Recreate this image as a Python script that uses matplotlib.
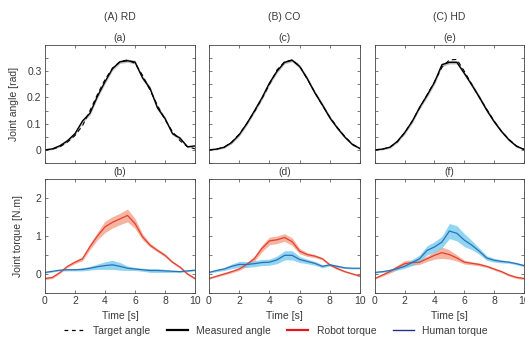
import matplotlib.pyplot as plt
from matplotlib.lines import Line2D

# ---------------- data ----------------
time = [0, 0.5, 1, 1.5, 2, 2.5, 3, 3.5, 4, 4.5, 5, 5.5, 6, 6.5, 7, 7.5, 8, 8.5, 9, 9.5, 10]

col_titles = ['(A) RD', '(B) CO', '(C) HD']
top_labels = ['(a)', '(c)', '(e)']
bot_labels = ['(b)', '(d)', '(f)']

# joint angle [rad]
target_rd = [0.0, 0.003, 0.012, 0.03, 0.055, 0.092, 0.15, 0.212, 0.268, 0.312, 0.337,
             0.343, 0.33, 0.285, 0.228, 0.17, 0.115, 0.07, 0.035, 0.012, 0.004]
measured_rd = [0.0, 0.004, 0.016, 0.035, 0.062, 0.11, 0.14, 0.205, 0.26, 0.31, 0.336,
               0.34, 0.335, 0.275, 0.235, 0.16, 0.12, 0.062, 0.045, 0.012, 0.015]
target_co = [0.0, 0.003, 0.01, 0.03, 0.06, 0.1, 0.145, 0.195, 0.25, 0.305, 0.336,
             0.343, 0.32, 0.27, 0.22, 0.17, 0.125, 0.085, 0.05, 0.022, 0.004]
measured_co = [0.0, 0.003, 0.01, 0.028, 0.058, 0.1, 0.148, 0.198, 0.255, 0.3, 0.334,
               0.342, 0.318, 0.272, 0.218, 0.172, 0.122, 0.083, 0.048, 0.02, 0.005]
target_hd = [0.0, 0.003, 0.01, 0.03, 0.065, 0.11, 0.16, 0.21, 0.26, 0.315, 0.343,
             0.345, 0.3, 0.25, 0.2, 0.155, 0.11, 0.07, 0.04, 0.015, 0.002]
measured_hd = [0.0, 0.003, 0.01, 0.032, 0.066, 0.108, 0.162, 0.208, 0.258, 0.325, 0.334,
               0.334, 0.292, 0.248, 0.202, 0.152, 0.108, 0.07, 0.038, 0.014, 0.002]
angle_sd = [0.002, 0.003, 0.004, 0.005, 0.006, 0.007, 0.007, 0.008, 0.008, 0.007, 0.006,
            0.006, 0.007, 0.008, 0.008, 0.008, 0.007, 0.006, 0.005, 0.004, 0.003]

# joint torque [N.m]
robot_rd = [-0.12, -0.09, 0.04, 0.2, 0.31, 0.4, 0.72, 1.0, 1.24, 1.36, 1.45,
            1.54, 1.33, 0.98, 0.76, 0.62, 0.49, 0.31, 0.18, 0.0, -0.12]
robot_rd_sd = [0.03, 0.03, 0.03, 0.03, 0.04, 0.05, 0.08, 0.1, 0.15, 0.15, 0.15,
               0.17, 0.13, 0.08, 0.05, 0.04, 0.04, 0.03, 0.03, 0.03, 0.03]
human_rd = [0.04, 0.07, 0.1, 0.11, 0.11, 0.12, 0.15, 0.19, 0.22, 0.24, 0.2,
            0.15, 0.13, 0.11, 0.09, 0.09, 0.08, 0.07, 0.06, 0.08, 0.1]
human_rd_sd = [0.02, 0.02, 0.02, 0.03, 0.03, 0.04, 0.05, 0.07, 0.1, 0.12, 0.1,
               0.06, 0.04, 0.04, 0.05, 0.05, 0.04, 0.03, 0.02, 0.02, 0.02]

robot_co = [-0.12, -0.06, 0.0, 0.06, 0.13, 0.25, 0.4, 0.67, 0.87, 0.9, 0.96,
            0.85, 0.6, 0.51, 0.47, 0.4, 0.24, 0.14, 0.06, 0.0, -0.06]
robot_co_sd = [0.02, 0.02, 0.03, 0.03, 0.04, 0.05, 0.07, 0.09, 0.1, 0.1, 0.1,
               0.1, 0.07, 0.05, 0.04, 0.03, 0.03, 0.03, 0.02, 0.02, 0.02]
human_co = [0.04, 0.09, 0.13, 0.2, 0.25, 0.25, 0.27, 0.3, 0.31, 0.37, 0.49,
            0.49, 0.38, 0.33, 0.28, 0.2, 0.24, 0.2, 0.16, 0.15, 0.15]
human_co_sd = [0.02, 0.03, 0.04, 0.06, 0.08, 0.08, 0.08, 0.08, 0.08, 0.1, 0.12,
               0.12, 0.08, 0.06, 0.05, 0.04, 0.03, 0.03, 0.02, 0.02, 0.02]

robot_hd = [-0.12, -0.03, 0.06, 0.17, 0.27, 0.3, 0.31, 0.4, 0.49, 0.56, 0.51,
            0.42, 0.31, 0.28, 0.25, 0.2, 0.13, 0.06, -0.03, -0.09, -0.12]
robot_hd_sd = [0.02, 0.03, 0.04, 0.06, 0.08, 0.07, 0.06, 0.07, 0.1, 0.15, 0.12,
               0.08, 0.05, 0.04, 0.04, 0.03, 0.03, 0.03, 0.03, 0.03, 0.03]
human_hd = [0.04, 0.06, 0.09, 0.14, 0.2, 0.3, 0.4, 0.62, 0.71, 0.84, 1.13,
            1.07, 0.89, 0.76, 0.6, 0.42, 0.36, 0.33, 0.31, 0.27, 0.22]
human_hd_sd = [0.02, 0.02, 0.03, 0.04, 0.05, 0.08, 0.1, 0.12, 0.14, 0.15, 0.2,
               0.2, 0.17, 0.12, 0.08, 0.06, 0.05, 0.04, 0.03, 0.03, 0.03]

targets = [target_rd, target_co, target_hd]
measured = [measured_rd, measured_co, measured_hd]
robots = [(robot_rd, robot_rd_sd), (robot_co, robot_co_sd), (robot_hd, robot_hd_sd)]
humans = [(human_rd, human_rd_sd), (human_co, human_co_sd), (human_hd, human_hd_sd)]

# ---------------- style ----------------
RED, RED_BAND = '#e5402f', '#f29a80'
BLUE, BLUE_BAND = '#2a72b8', '#6cc8ee'
TXT = '#3a3a3a'
FS = 7.5

plt.rcParams['font.family'] = ['Liberation Sans', 'DejaVu Sans']
fig = plt.figure(figsize=(5.25, 3.41), dpi=100)

lefts = [0.0857, 0.398, 0.714]
widths = [0.2857, 0.288, 0.284]


def style(ax):
    for s in ax.spines.values():
        s.set_linewidth(0.6)
        s.set_color('#444444')
    ax.tick_params(direction='in', which='both', top=True, right=True,
                   length=2, width=0.5, labelsize=FS, colors='#444444',
                   labelcolor=TXT, pad=2.5)
    ax.set_xlim(0, 10)
    ax.set_xticks([0, 2, 4, 6, 8, 10])


def band(ax, y, sd, color, alpha):
    lo = [a - b for a, b in zip(y, sd)]
    hi = [a + b for a, b in zip(y, sd)]
    ax.fill_between(time, lo, hi, color=color, alpha=alpha, lw=0)


for i in range(3):
    ax = fig.add_axes([lefts[i], 0.522, widths[i], 0.346])
    style(ax)
    band(ax, measured[i], angle_sd, '#888888', 0.55)
    ax.plot(time, measured[i], color='black', lw=1.0)
    ax.plot(time, targets[i], color='black', lw=0.8, ls=(0, (4, 3)))
    ax.set_ylim(-0.05, 0.4)
    ax.set_yticks([-0.05, 0, 0.05, 0.1, 0.15, 0.2, 0.25, 0.3, 0.35])
    ax.set_xticklabels([])
    if i == 0:
        ax.set_yticklabels(['', '0', '', '0.1', '', '0.2', '', '0.3', ''])
        ax.set_ylabel('Joint angle [rad]', fontsize=FS, color=TXT, labelpad=6)
    else:
        ax.set_yticklabels([])
    ax.set_title(top_labels[i], fontsize=FS, color=TXT, pad=3)
    fig.text(lefts[i] + widths[i] / 2, 0.95, col_titles[i], ha='center',
             va='center', fontsize=FS, color=TXT)

    ax = fig.add_axes([lefts[i], 0.141, widths[i], 0.334])
    style(ax)
    r, rsd = robots[i]
    h, hsd = humans[i]
    band(ax, r, rsd, RED_BAND, 0.75)
    band(ax, h, hsd, BLUE_BAND, 0.75)
    ax.plot(time, r, color=RED, lw=0.9)
    ax.plot(time, h, color=BLUE, lw=0.9)
    ax.set_ylim(-0.5, 2.5)
    ax.set_yticks([-0.5, 0, 0.5, 1, 1.5, 2, 2.5])
    if i == 0:
        ax.set_yticklabels(['', '0', '', '1', '', '2', ''])
        ax.set_ylabel('Joint torque [N.m]', fontsize=FS, color=TXT, labelpad=9)
    else:
        ax.set_yticklabels([])
    ax.set_xlabel('Time [s]', fontsize=FS, color=TXT, labelpad=3)
    ax.set_title(bot_labels[i], fontsize=FS, color=TXT, pad=3)

handles = [
    Line2D([], [], color='black', lw=0.9, ls=(0, (3, 3))),
    Line2D([], [], color='black', lw=1.6),
    Line2D([], [], color='#e8141c', lw=1.6),
    Line2D([], [], color='#2b2f8f', lw=1.0),
]
labels = ['Target angle', 'Measured angle', 'Robot torque', 'Human torque']
fig.legend(handles, labels, loc='center', bbox_to_anchor=(0.525, 0.03), ncol=4,
           frameon=False, fontsize=FS, handlelength=2.0, handletextpad=0.8,
           columnspacing=1.6, labelcolor=TXT)

fig.savefig('out.png', dpi=100)
